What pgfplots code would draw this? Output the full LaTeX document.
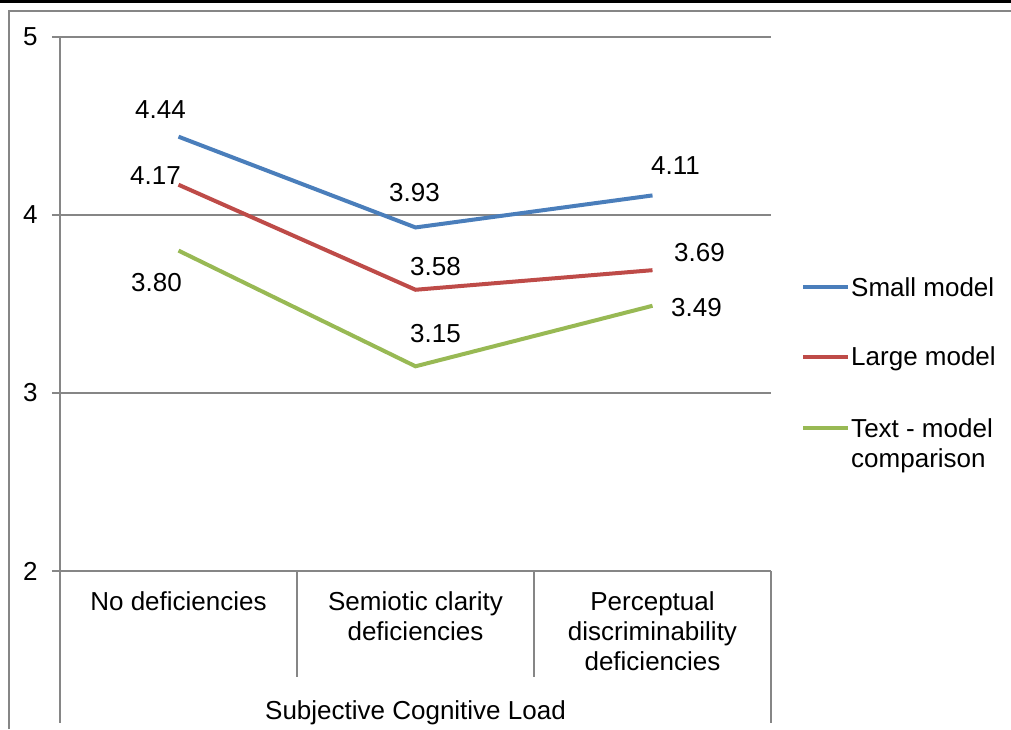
\documentclass[border=0pt]{standalone}
\usepackage{pgfplots}
\pgfplotsset{compat=1.18}
\usepackage{pgfplotstable}
\usepackage{fontspec}
\setmainfont{Liberation Sans}

\definecolor{cBlue}{HTML}{4A7EBB}
\definecolor{cRed}{HTML}{BE4B48}
\definecolor{cGreen}{HTML}{98B954}
\definecolor{cGrid}{HTML}{868686}

% x, value, label offset (dx, dy)
\pgfplotstableread{
x y dx dy
0 4.44 -18 27
1 3.93 -1 35
2 4.11 23 30
}\smallmodel
\pgfplotstableread{
x y dx dy
0 4.17 -23 9
1 3.58 20 23
2 3.69 47 18
}\largemodel
\pgfplotstableread{
x y dx dy
0 3.80 -22 -32
1 3.15 20 33
2 3.49 44 -2
}\textmodel

\begin{document}
\begin{tikzpicture}
\useasboundingbox (0,0) rectangle (1011pt,729pt);
% outer frame (cropped chart area)
\draw[line width=3pt] (0,727.5pt) -- (1011pt,727.5pt);
\draw[cGrid, line width=1.5pt] (9pt,0) -- (9pt,718pt) -- (1011pt,718pt);

\begin{axis}[
    at={(60pt,158pt)}, anchor=south west,
    scale only axis, width=711pt, height=534pt,
    font=\fontsize{26}{30}\selectfont,
    /pgf/number format/assume math mode=true,
    xmin=-0.5, xmax=2.5, ymin=2, ymax=5,
    axis x line*=bottom, axis y line*=left,
    axis line style={cGrid, line width=1.2pt, -},
    xtick={0,1,2},
    xticklabels={No deficiencies, Semiotic clarity\\deficiencies, Perceptual\\discriminability\\deficiencies},
    xticklabel style={align=center, anchor=north, yshift=-9pt},
    major x tick style={draw=none},
    ytick={2,3,4,5},
    tick align=outside,
    major tick length=8pt,
    ytick style={cGrid, line width=1.2pt},
    yticklabel style={xshift=-11pt},
    ymajorgrids,
    grid style={cGrid, line width=1.2pt},
    clip=false,
    xlabel={Subjective Cognitive Load},
    xlabel style={at={(axis description cs:0.5,0)}, anchor=base, yshift=-148pt},
    legend style={draw=none, fill=none, at={(1.038,0.5)}, anchor=west, yshift=-54pt,
        cells={anchor=base west}, column sep=1pt, row sep=49pt,
        nodes={inner sep=0pt}},
    legend image code/.code={\draw[#1] (0pt,9pt) -- (45pt,9pt);},
]
\pgfplotsset{
    label plot/.style={
        nodes near coords,
        point meta=y,
        visualization depends on={\thisrow{dx}\as\dx},
        visualization depends on={\thisrow{dy}\as\dy},
        every node near coord/.append style={/pgf/number format/fixed,
            /pgf/number format/fixed zerofill, /pgf/number format/precision=2,
            anchor=center, xshift=\dx pt, yshift=\dy pt, text=black},
    }
}
\addplot[cBlue, line width=4pt, label plot] table[x=x, y=y] {\smallmodel};
\addlegendentry{Small model}
\addplot[cRed, line width=4pt, label plot] table[x=x, y=y] {\largemodel};
\addlegendentry{Large model}
\addplot[cGreen, line width=4pt, label plot] table[x=x, y=y] {\textmodel};
\addlegendentry{\begin{tabular}[t]{@{}l@{}}Text - model\\comparison\end{tabular}}

% category separators below the plot area
\draw[cGrid, line width=1.2pt] (axis cs:-0.5,2) -- ++(0pt,-152pt);
\draw[cGrid, line width=1.2pt] (axis cs:0.5,2) -- ++(0pt,-106pt);
\draw[cGrid, line width=1.2pt] (axis cs:1.5,2) -- ++(0pt,-106pt);
\draw[cGrid, line width=1.2pt] (axis cs:2.5,2) -- ++(0pt,-152pt);
\end{axis}
\end{tikzpicture}
\end{document}
